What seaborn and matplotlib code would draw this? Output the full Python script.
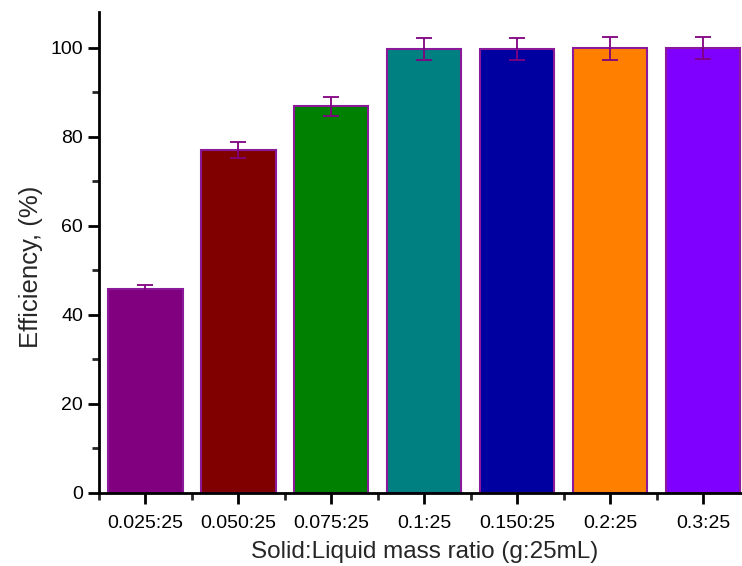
import matplotlib
matplotlib.use("Agg")
import matplotlib.pyplot as plt
import seaborn as sns
import pandas as pd
import numpy as np
from matplotlib.ticker import MultipleLocator, FixedLocator

categories = ["0.025:25", "0.050:25", "0.075:25", "0.1:25", "0.150:25", "0.2:25", "0.3:25"]
efficiency = [45.8, 76.9, 86.8, 99.7, 99.7, 99.8, 99.9]
errors = [0.9, 1.8, 2.1, 2.5, 2.5, 2.5, 2.5]
colors = ["#800080", "#800000", "#008000", "#008080", "#0000A0", "#FF8000", "#8000FF"]

df = pd.DataFrame({"ratio": categories, "eff": efficiency})

sns.set_style("ticks")
plt.rcParams['font.family'] = ['Liberation Sans', 'DejaVu Sans']

fig = plt.figure(figsize=(7.42, 5.66), dpi=100)
ax = fig.add_axes([0.1334, 0.129, 0.8666, 0.85])

sns.barplot(data=df, x="ratio", y="eff", hue="ratio", palette=colors, legend=False,
            saturation=1, width=0.8, edgecolor="#8B1A9B", linewidth=1.5, ax=ax, errorbar=None)
ax.errorbar(np.arange(len(categories)), efficiency, yerr=errors, fmt="none",
            ecolor="#800080", elinewidth=1.3, capsize=6, capthick=1.3, zorder=5)

ax.set_xlim(-0.5, 6.42)
ax.set_ylim(0, 108)
ax.yaxis.set_major_locator(MultipleLocator(20))
ax.yaxis.set_minor_locator(MultipleLocator(10))
ax.xaxis.set_minor_locator(FixedLocator(np.arange(-0.5, 6.6, 1.0)))

for s in ["top", "right"]:
    ax.spines[s].set_visible(False)
for s in ["left", "bottom"]:
    ax.spines[s].set_linewidth(2)
    ax.spines[s].set_color("black")

ax.tick_params(axis="both", which="major", direction="out", length=8, width=2, labelsize=14, colors="black")
ax.tick_params(axis="x", which="major", pad=8)
ax.tick_params(axis="both", which="minor", direction="out", length=5, width=2)

ax.set_xlabel("Solid:Liquid mass ratio (g:25mL)", fontsize=17.5)
ax.set_ylabel("Efficiency, (%)", fontsize=18.5)
ax.xaxis.label.set_va("baseline")
ax.xaxis.set_label_coords(0.506, -0.136)
ax.yaxis.set_label_coords(-0.087, 0.47)

fig.savefig("out.png", dpi=100)
